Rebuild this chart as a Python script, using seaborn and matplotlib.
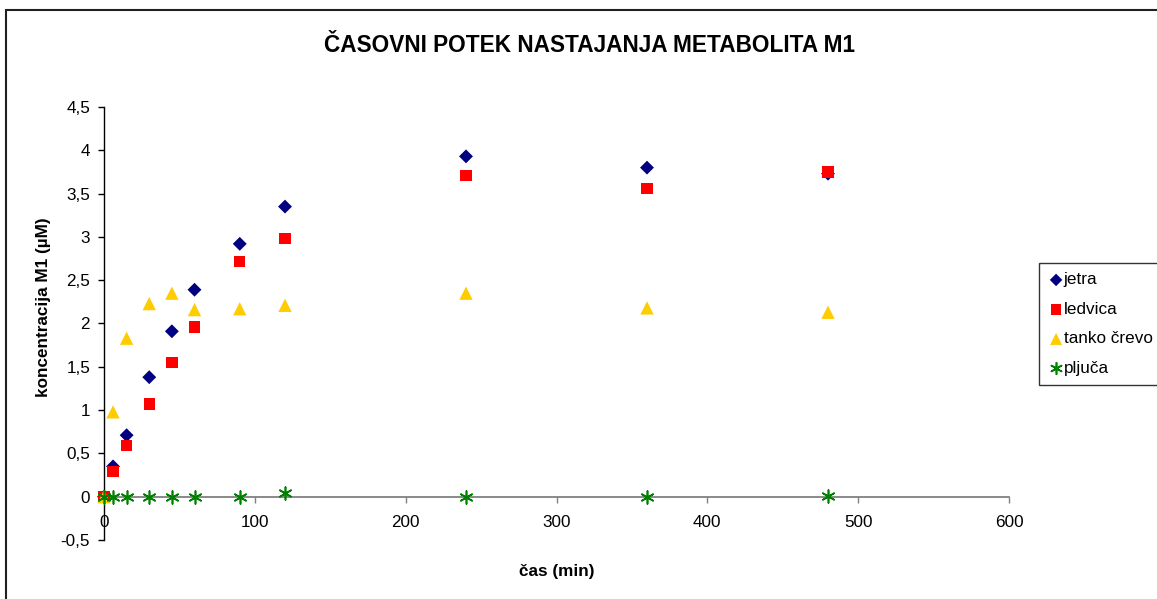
import matplotlib
matplotlib.use("Agg")
import matplotlib.pyplot as plt
from matplotlib.patches import Rectangle
from matplotlib.ticker import FixedLocator, FixedFormatter
import seaborn as sns
import pandas as pd

# Sampling times (min)
cas = [0, 6, 15, 30, 45, 60, 90, 120, 240, 360, 480]

# Concentration of metabolite M1 (µM) per tissue
jetra = [0.00, 0.35, 0.71, 1.38, 1.91, 2.39, 2.92, 3.35, 3.93, 3.80, 3.73]
ledvica = [0.00, 0.29, 0.59, 1.07, 1.55, 1.96, 2.72, 2.98, 3.71, 3.56, 3.75]
tanko_crevo = [0.00, 0.98, 1.83, 2.23, 2.35, 2.16, 2.17, 2.21, 2.35, 2.18, 2.13]
pljuca = [0.00, 0.00, 0.00, 0.00, 0.00, 0.00, 0.00, 0.04, 0.00, 0.00, 0.01]

serije = ["jetra", "ledvica", "tanko črevo", "pljuča"]
y_ticks = [-0.5, 0, 0.5, 1, 1.5, 2, 2.5, 3, 3.5, 4, 4.5]
y_tick_labels = ["-0,5", "0", "0,5", "1", "1,5", "2", "2,5", "3", "3,5", "4", "4,5"]
x_ticks = [0, 100, 200, 300, 400, 500, 600]

df = pd.DataFrame({
    "cas": cas * 4,
    "koncentracija": jetra + ledvica + tanko_crevo + pljuca,
    "tkivo": sum([[s] * len(cas) for s in serije], []),
})

sns.set_theme(style="white")
plt.rcParams["font.family"] = ["Liberation Sans", "DejaVu Sans"]
plt.rcParams["axes.labelcolor"] = "black"
plt.rcParams["text.color"] = "black"

W, H = 1157, 599
FS = 12.3
fig = plt.figure(figsize=(W / 100, H / 100), dpi=100)
ax = fig.add_axes([104 / W, 1 - 540 / H, 905 / W, 433 / H])

slog = {
    "jetra": dict(marker="D", color="#000080", s=50, linewidth=0),
    "ledvica": dict(marker="s", color="#FF0000", s=66, linewidth=0),
    "tanko črevo": dict(marker="^", color="#FFCC00", s=92, linewidth=0),
    "pljuča": dict(marker=(6, 2, 0), color="#008000", s=85, linewidth=1.2),
}

for ime in serije:
    st = slog[ime]
    sns.scatterplot(
        data=df[df["tkivo"] == ime], x="cas", y="koncentracija",
        ax=ax, label=ime, marker=st["marker"], color=st["color"],
        s=st["s"], linewidth=st["linewidth"],
        edgecolor=st["color"] if st["linewidth"] else "none",
        clip_on=False, zorder=3,
    )

ax.set_xlim(0, 600)
ax.set_ylim(-0.5, 4.5)

ax.spines["top"].set_visible(False)
ax.spines["right"].set_visible(False)
ax.spines["bottom"].set_position(("data", 0))
ax.spines["bottom"].set_color("#808080")
ax.spines["bottom"].set_linewidth(1.3)
ax.spines["left"].set_color("#000000")
ax.spines["left"].set_linewidth(1.0)

ax.xaxis.set_major_locator(FixedLocator(x_ticks))
ax.yaxis.set_major_locator(FixedLocator(y_ticks))
ax.yaxis.set_major_formatter(FixedFormatter(y_tick_labels))
ax.tick_params(axis="x", direction="out", length=4, width=1, color="#808080",
               pad=9, labelsize=FS, labelcolor="black", bottom=True)
ax.tick_params(axis="y", direction="out", length=4, width=1, color="#000000",
               pad=6, labelsize=FS, labelcolor="black", left=True)

ax.set_xlabel("čas (min)", fontsize=FS, fontweight="bold", color="black")
ax.xaxis.set_label_coords(0.5, -0.072)
ax.xaxis.label.set_va("center")
ax.set_ylabel("koncentracija M1 (µM)", fontsize=FS, fontweight="bold",
              color="black")
ax.yaxis.set_label_coords(-0.0663, 0.538)
ax.yaxis.label.set_va("center")

fig.text(590 / W, 1 - 45 / H, "ČASOVNI POTEK NASTAJANJA METABOLITA M1",
         ha="center", va="center", fontsize=16.3, fontweight="bold",
         color="black")

# Chart-area border
fig.add_artist(Rectangle((6 / W, -0.2), 1.2, 1.2 - 10 / H,
                         transform=fig.transFigure, fill=False,
                         edgecolor="#202020", linewidth=1.5))

leg = ax.legend(loc="upper left", bbox_to_anchor=(1039 / W, 1 - 263 / H),
                bbox_transform=fig.transFigure, borderaxespad=0,
                frameon=True, fancybox=False, fontsize=FS,
                handletextpad=0.0, handlelength=0.9, labelspacing=0.85,
                borderpad=0.55, markerscale=0.9)
leg.get_frame().set_edgecolor("black")
leg.get_frame().set_linewidth(1.0)
for t in leg.get_texts():
    t.set_color("black")

fig.savefig("out.png", dpi=100)
